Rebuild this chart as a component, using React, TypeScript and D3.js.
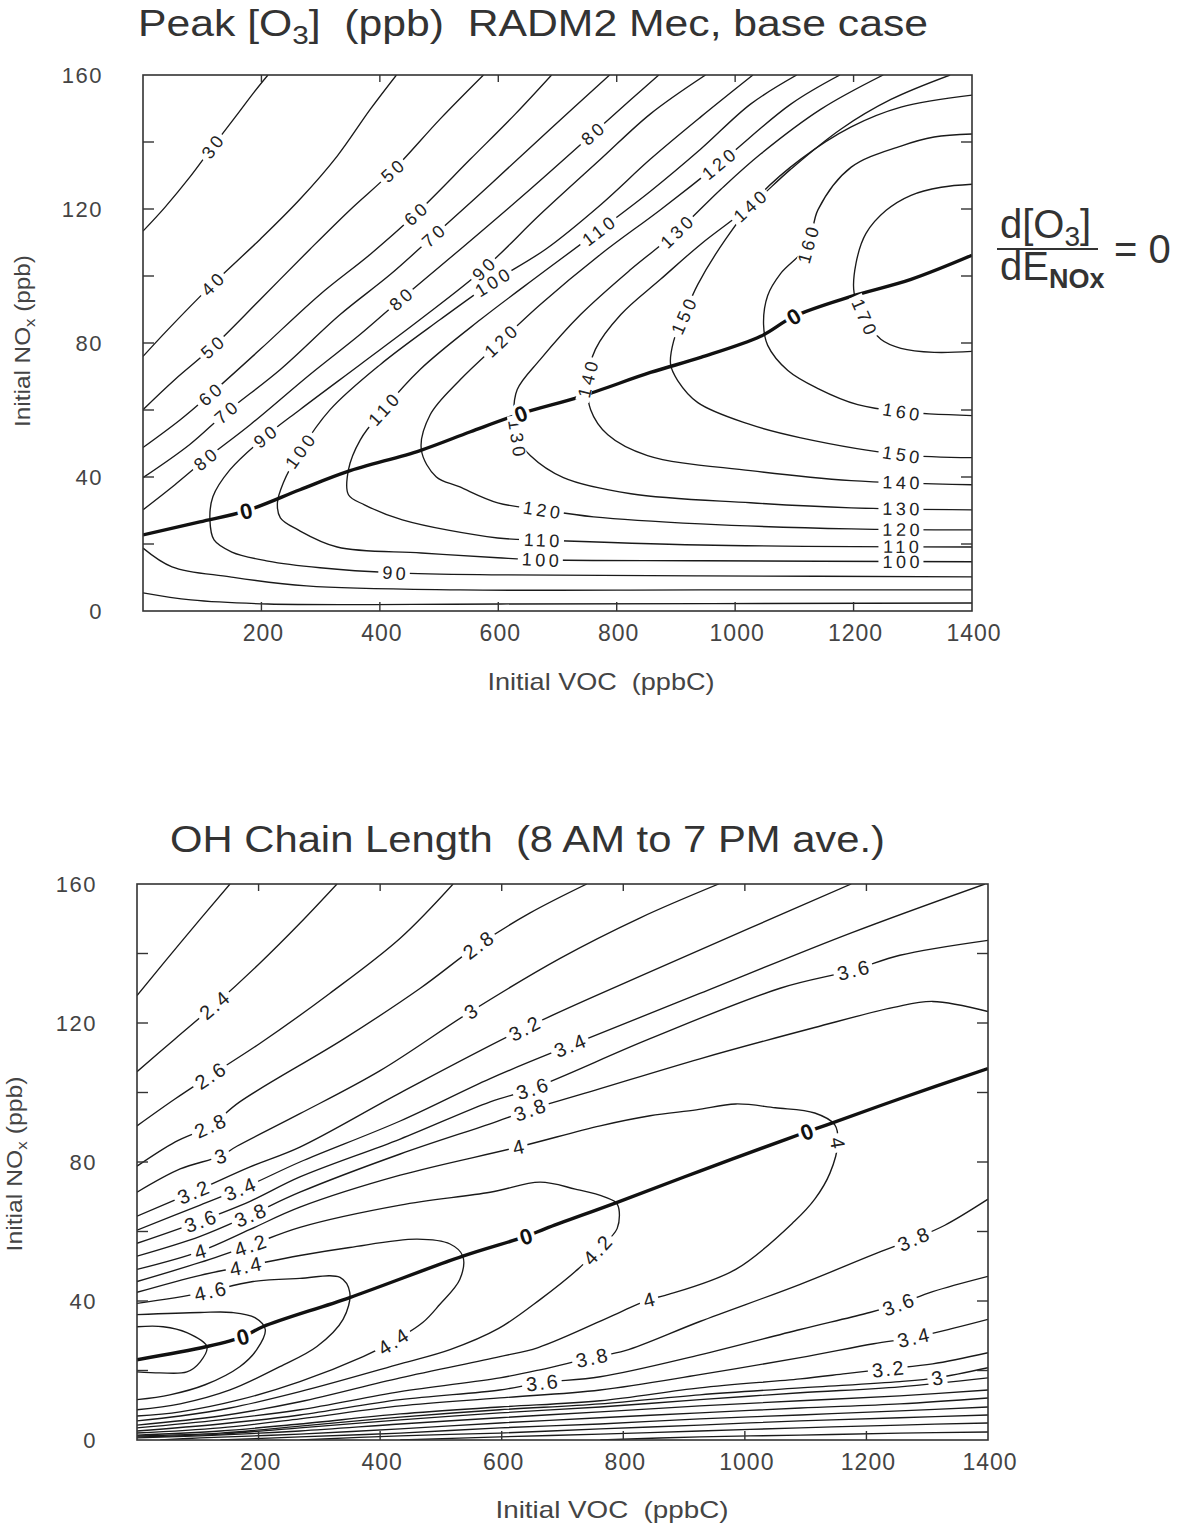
import * as d3 from 'd3';

type Pt = [number, number];
interface Iso {
  level: string;
  pts: Pt[];
}
type Tag = [string, number, number];

const FONT = '"Liberation Sans", Arial, Helvetica, sans-serif';

const vocLabels = [200, 400, 600, 800, 1000, 1200, 1400];
const vocTicks = [200, 400, 600, 800, 1000, 1200];
const noxLabels = [0, 40, 80, 120, 160];
const noxTicks = [20, 40, 60, 80, 100, 120, 140];

// ---- Peak [O3] (ppb), contours: [VOC ppbC, NOx ppb]
const o3Ridge: Pt[] = [
  [0, 22.7], [96, 26.6], [174, 29.9], [265, 36.2], [345, 41.6], [468, 47.9], [553, 53.5],
  [638, 58.9], [739, 64], [857, 71.2], [942, 75.7], [1043, 82], [1099, 87.9], [1196, 93.9],
  [1297, 99], [1400, 106.2],
];
const o3Zeros: Pt[] = [[174, 29.9], [638, 58.9], [1099, 87.9]];

const o3Lines: Iso[] = [
  { level: '30', pts: [[0, 113.4], [37, 120.5], [79, 129.5], [117, 138.5], [156, 147.5], [189, 155.2], [211, 160]] },
  { level: '40', pts: [[0, 76], [42, 84], [117, 97.5], [198, 111], [265, 122.9], [328, 135.8], [384, 149.8], [428, 160]] },
  { level: '50', pts: [[0, 60.1], [54, 69.1], [117, 78.7], [198, 93], [282, 108], [350, 119.8], [421, 131.3], [502, 146.9], [575, 160]] },
  { level: '60', pts: [[0, 48.8], [63, 57.1], [113, 64.6], [198, 78.1], [299, 94.5], [384, 106.5], [460, 118.4], [553, 134.9], [629, 148.4], [690, 160]] },
  { level: '70', pts: [[0, 39.8], [79, 49.7], [140, 59.2], [232, 72.1], [333, 88.5], [418, 100.5], [490, 111.9], [587, 127.4], [688, 143.9], [788, 160]] },
  { level: '80', pts: [[0, 30.2], [54, 37.7], [105, 45.2], [181, 55.6], [282, 70.6], [367, 82.6], [435, 93], [536, 108], [654, 125.9], [759, 142.4], [824, 152.7], [871, 160]] },
  { level: '90', pts: [[950, 160], [857, 148.4], [773, 134.9], [671, 118.4], [575, 102], [468, 87], [367, 73.6], [265, 60.1], [206, 52], [147, 42.2], [118, 34.1], [113, 27.2], [120, 21.2], [150, 17.6], [211, 14.9], [299, 12.9], [424, 11.4], [604, 10.8], [942, 10.5], [1400, 10.2]] },
  { level: '100', pts: [[1030, 160], [942, 147.5], [857, 134.9], [773, 121.3], [680, 108], [590, 98.1], [502, 87], [401, 73.6], [316, 60.1], [265, 47.6], [237, 38.3], [227, 32.3], [232, 27.8], [262, 24.2], [328, 19.1], [470, 17.3], [599, 15.9], [671, 15.3], [942, 15], [1400, 14.7]] },
  { level: '110', pts: [[1104, 160], [1026, 151.3], [942, 137.9], [857, 125.3], [769, 113.4], [671, 100.5], [570, 87], [468, 72.1], [406, 60.1], [367, 51.1], [347, 42.2], [347, 34.7], [374, 31.7], [438, 27.2], [599, 21.8], [673, 21.2], [942, 19.7], [1400, 19.1]] },
  { level: '120', pts: [[1177, 160], [1094, 151.3], [972, 133.4], [874, 119.8], [773, 106.5], [671, 91.5], [604, 80.5], [536, 69.1], [485, 58.6], [470, 48.2], [495, 40.1], [534, 37.1], [599, 32.3], [673, 30.2], [761, 28.1], [942, 26], [1196, 24.5], [1400, 24.2]] },
  { level: '130', pts: [[1250, 160], [1145, 149.8], [1043, 136.4], [976, 125.9], [901, 113.1], [824, 102], [739, 88.5], [671, 75.1], [632, 66.1], [626, 58.6], [632, 51.7], [654, 46.4], [710, 39.8], [824, 35], [1026, 32.3], [1196, 30.8], [1400, 30.2]] },
  { level: '140', pts: [[1363, 160], [1263, 152.7], [1179, 143.9], [1094, 131.9], [1025, 120.8], [942, 109.5], [874, 99], [807, 88.5], [764, 78.1], [751, 69.1], [756, 60.1], [785, 52.6], [852, 46.4], [1026, 41.9], [1196, 38.9], [1400, 37.7]] },
  { level: '150', pts: [[1400, 154], [1280, 150.4], [1196, 144.5], [1111, 134.9], [1043, 124.4], [984, 111], [937, 97.5], [913, 87.9], [896, 80.5], [891, 73.6], [903, 68.8], [937, 62.2], [1021, 55.9], [1111, 51.7], [1280, 46.7], [1400, 45.8]] },
  { level: '160', pts: [[1400, 142.4], [1336, 141.5], [1280, 138.8], [1196, 132.5], [1140, 119.8], [1123, 109.2], [1077, 100.8], [1055, 94.2], [1048, 85.5], [1055, 79.3], [1089, 71.8], [1140, 66.4], [1207, 61.6], [1280, 59.5], [1400, 58.3]] },
  { level: '170', pts: [[1400, 127.4], [1348, 126.5], [1297, 124.1], [1255, 119.6], [1221, 112.7], [1204, 103.7], [1201, 94.8], [1218, 87.9], [1246, 81.1], [1280, 78.4], [1336, 77.2], [1400, 77.5]] },
  { level: '80', pts: [[0, 18.8], [49, 13.2], [147, 10.2], [276, 7.5], [536, 6.3], [942, 6.3], [1400, 6.3]] },
  { level: '70', pts: [[0, 5.4], [81, 3.3], [211, 2.1], [604, 2.1], [1400, 2.4]] },
];

const o3Tags: Tag[] = [
  ['30', 117, 138.5], ['40', 117, 97.5], ['50', 117, 78.7], ['50', 421, 131.3],
  ['60', 113, 64.6], ['60', 460, 118.4], ['70', 140, 59.2], ['70', 490, 111.9],
  ['80', 105, 45.2], ['80', 435, 93], ['80', 759, 142.4],
  ['90', 206, 52], ['90', 575, 102], ['90', 424, 11.4],
  ['100', 265, 47.6], ['100', 590, 98.1], ['100', 671, 15.3], ['100', 1280, 14.8],
  ['110', 406, 60.1], ['110', 769, 113.4], ['110', 673, 21.2], ['110', 1280, 19.3],
  ['120', 604, 80.5], ['120', 972, 133.4], ['120', 673, 30.2], ['120', 1280, 24.4],
  ['130', 901, 113.1], ['130', 632, 51.7], ['130', 1280, 30.6],
  ['140', 1025, 120.8], ['140', 751, 69.1], ['140', 1280, 38.2],
  ['150', 913, 87.9], ['150', 1280, 46.7],
  ['160', 1123, 109.2], ['160', 1280, 59.5],
  ['170', 1218, 87.9],
];

// ---- OH chain length (8 AM to 7 PM ave.)
const ohRidge: Pt[] = [
  [0, 23.1], [115, 26.9], [174, 29.7], [207, 32.6], [350, 41], [536, 52.9], [640, 58.6],
  [673, 60.9], [790, 68.4], [926, 77.4], [1069, 86.6], [1102, 88.7], [1135, 90.7],
  [1255, 98.2], [1400, 106.9],
];
const ohZeros: Pt[] = [[174, 29.7], [640, 58.6], [1102, 88.7]];

const ohLines: Iso[] = [
  { level: '2.2', pts: [[0, 127.9], [71, 143], [153, 160]] },
  { level: '2.4', pts: [[0, 106], [63, 115.5], [127, 125.1], [202, 137.2], [268, 148.7], [329, 160]] },
  { level: '2.6', pts: [[0, 90.4], [63, 98.2], [120, 104.8], [202, 114.1], [317, 128.5], [433, 144.4], [520, 160]] },
  { level: '2.8', pts: [[0, 78.8], [63, 85.8], [120, 90.4], [169, 97.3], [341, 115.5], [466, 130], [561, 142.4], [646, 151.6], [740, 160]] },
  { level: '3', pts: [[0, 71.3], [71, 78], [137, 81.7], [165, 84.6], [268, 93.9], [400, 106.3], [549, 123.3], [696, 138.6], [827, 150.2], [957, 160]] },
  { level: '3.2', pts: [[0, 64.4], [104, 72.2], [186, 78.6], [268, 84.3], [433, 99.9], [637, 118.4], [827, 133.4], [1008, 147.3], [1175, 160]] },
  { level: '3.4', pts: [[0, 60.4], [104, 67.6], [186, 73.4], [268, 80], [433, 91.8], [581, 104], [712, 113.5], [926, 128.5], [1173, 145.8], [1395, 160]] },
  { level: '3.6', pts: [[0, 56.6], [104, 63], [186, 68.7], [268, 75.7], [433, 86.6], [581, 97.3], [650, 101.1], [844, 115.5], [1058, 130], [1178, 135.2], [1255, 139.5], [1400, 143.8]] },
  { level: '3.8', pts: [[0, 52.9], [104, 58.6], [186, 64.7], [268, 71.3], [433, 82.3], [581, 91], [646, 95], [762, 101.1], [926, 109.7], [1115, 118.7], [1245, 124.5], [1309, 126.2], [1400, 123.3]] },
  { level: '4', pts: [[0, 49.1], [104, 54.3], [186, 60.6], [268, 67], [433, 76.2], [627, 84.3], [762, 90.4], [844, 93.3], [920, 95], [985, 96.7], [1050, 95.6], [1115, 94.1], [1148, 90.7], [1153, 85.5], [1140, 76.8], [1115, 69.3], [1082, 63], [985, 49.1], [869, 41.6], [842, 40.4], [790, 36.4], [660, 26.6], [597, 24], [433, 17.9], [268, 11], [137, 6.9], [0, 4.3]] },
  { level: '4.2', pts: [[0, 45.6], [104, 51.1], [186, 56], [268, 61.2], [433, 67.6], [581, 71.3], [663, 74.2], [721, 72.2], [770, 69.9], [790, 67.9], [790, 60.9], [757, 54.6], [725, 49.1], [663, 40.4], [595, 32.1], [515, 26], [433, 21.9], [268, 13.9], [153, 9.2], [71, 6.9], [0, 5.5]] },
  { level: '4.4', pts: [[0, 42.5], [104, 47.4], [186, 50.3], [268, 53.1], [350, 55.4], [461, 57.8], [515, 56.4], [536, 52.9], [531, 46.2], [498, 39], [470, 33.8], [421, 28.3], [372, 24], [268, 16.8], [169, 11.6], [71, 8.1], [0, 6.9]] },
  { level: '4.6', pts: [[0, 39.3], [104, 42.2], [191, 45.6], [268, 46.5], [334, 46.8], [350, 42.5], [339, 34.7], [296, 26.9], [235, 21.1], [153, 14.4], [71, 10.4], [0, 8.7]] },
  { level: '4.8', pts: [[0, 36.1], [104, 36.7], [156, 36.7], [194, 35.2], [211, 31.8], [197, 26], [169, 21.1], [112, 15.9], [54, 13], [0, 11.6]] },
  { level: '5', pts: [[0, 32.6], [43, 32.6], [82, 30.9], [115, 26.9], [104, 22.5], [82, 19.6], [38, 19.3], [0, 19.6]] },
  { level: '3.8', pts: [[1400, 69.3], [1329, 61.8], [1277, 57.8], [1212, 53.4], [1091, 44.8], [926, 34.1], [803, 25.7], [748, 23.7], [663, 20.2], [597, 17.9], [433, 13.9], [268, 8.7], [137, 5.8], [0, 3.5]] },
  { level: '3.6', pts: [[1400, 47.1], [1309, 42.7], [1252, 39], [1199, 36.4], [1091, 31.8], [926, 24.5], [762, 18.2], [666, 16.5], [597, 14.4], [433, 11.6], [268, 7.2], [137, 4.6], [0, 2.6]] },
  { level: '3.4', pts: [[1400, 34.7], [1342, 32.1], [1277, 29.5], [1212, 27.7], [1091, 23.7], [926, 18.8], [762, 14.4], [597, 12.1], [433, 9.8], [268, 6.1], [137, 3.5], [0, 2]] },
  { level: '3.2', pts: [[1400, 25.1], [1309, 21.9], [1235, 20.5], [1166, 19.1], [1091, 17.6], [926, 15], [762, 11.3], [597, 9.5], [433, 7.5], [268, 4.6], [137, 2.6], [0, 1.4]] },
  { level: '3', pts: [[1400, 20.8], [1316, 17.9], [1255, 16.8], [1091, 15], [926, 13], [762, 10.4], [597, 8.7], [433, 6.6], [268, 4], [137, 2], [0, 1.2]] },
  { level: '2.8', pts: [[1400, 17.9], [1255, 15.3], [1091, 13.6], [926, 11.6], [762, 9.5], [597, 7.8], [433, 5.8], [268, 3.5], [137, 1.7], [0, 0.9]] },
  { level: '2.6', pts: [[1400, 14.4], [1255, 12.7], [1091, 11.3], [926, 9.8], [762, 8.1], [597, 6.4], [433, 4.6], [268, 2.6], [104, 1.2], [0, 0.6]] },
  { level: '2.4', pts: [[1400, 12.1], [1255, 10.4], [1091, 9.2], [926, 7.8], [762, 6.4], [597, 4.9], [433, 3.2], [268, 1.7], [104, 0.6], [38, 0]] },
  { level: '2.2', pts: [[1400, 9.5], [1255, 8.4], [1091, 7.2], [926, 6.1], [762, 4.6], [597, 3.5], [433, 2], [268, 0.9], [137, 0]] },
  { level: '2', pts: [[1400, 7.2], [1255, 6.4], [1091, 5.5], [926, 4.3], [762, 3.2], [597, 2], [433, 1.2], [268, 0]] },
  { level: '1.8', pts: [[1400, 4.9], [1255, 4.3], [1091, 3.5], [926, 2.6], [762, 1.7], [597, 0.9], [433, 0]] },
  { level: '1.6', pts: [[1400, 2.3], [1255, 2], [1091, 1.4], [926, 0.9], [762, 0]] },
];

const ohTags: Tag[] = [
  ['2.4', 127, 125.1], ['2.6', 120, 104.8], ['2.8', 120, 90.4], ['2.8', 561, 142.4],
  ['3', 137, 81.7], ['3', 549, 123.3], ['3', 1316, 17.9],
  ['3.2', 92, 71.3], ['3.2', 637, 118.4], ['3.2', 1235, 20.5],
  ['3.4', 169, 72.2], ['3.4', 712, 113.5], ['3.4', 1277, 29.5],
  ['3.6', 104, 63], ['3.6', 650, 101.1], ['3.6', 1178, 135.2], ['3.6', 1252, 39], ['3.6', 666, 16.5],
  ['3.8', 186, 64.7], ['3.8', 646, 95], ['3.8', 1277, 57.8], ['3.8', 748, 23.7],
  ['4', 104, 54.3], ['4', 627, 84.3], ['4', 1153, 85.5], ['4', 842, 40.4],
  ['4.2', 186, 56], ['4.2', 757, 54.6],
  ['4.4', 178, 50.2], ['4.4', 421, 28.3],
  ['4.6', 120, 42.8],
];

function snap(pts: Pt[], p: Pt) {
  let best = Infinity;
  let q: Pt = p;
  let ang = 0;
  for (let i = 0; i < pts.length - 1; i++) {
    const [x1, y1] = pts[i];
    const [x2, y2] = pts[i + 1];
    const dx = x2 - x1;
    const dy = y2 - y1;
    const len = dx * dx + dy * dy || 1;
    const t = Math.max(0, Math.min(1, ((p[0] - x1) * dx + (p[1] - y1) * dy) / len));
    const cx = x1 + t * dx;
    const cy = y1 + t * dy;
    const d = (cx - p[0]) ** 2 + (cy - p[1]) ** 2;
    if (d < best) {
      best = d;
      q = [cx, cy];
      ang = (Math.atan2(dy, dx) * 180) / Math.PI;
    }
  }
  if (ang > 90) ang -= 180;
  if (ang < -90) ang += 180;
  return { best, q, ang };
}

// rough width of a label, used for the white gap cut into the line
function labelWidth(s: string, size: number, spacing: number) {
  let w = 0;
  for (const c of s) w += c === '.' ? 0.28 * size : 0.556 * size;
  return w + spacing * (s.length - 1);
}

interface PanelProps {
  id: string;
  left: number;
  right: number;
  top: number;
  bottom: number;
  lines: Iso[];
  tags: Tag[];
  ridge: Pt[];
  zeros: Pt[];
  tagSize: number;
  tagSpacing: number;
}

function Panel({ id, left, right, top, bottom, lines, tags, ridge, zeros, tagSize, tagSpacing }: PanelProps) {
  const x = d3.scaleLinear().domain([0, 1400]).range([left, right]);
  const y = d3.scaleLinear().domain([0, 160]).range([bottom, top]);
  const line = d3
    .line<Pt>()
    .x((d) => x(d[0]))
    .y((d) => y(d[1]))
    .curve(d3.curveCatmullRom.alpha(0.5));
  const toScreen = (pts: Pt[]) => pts.map((d) => [x(d[0]), y(d[1])] as Pt);

  // put each label on the nearest line of its level, turned along it
  const placed = tags.map(([lev, v, n]) => {
    const p: Pt = [x(v), y(n)];
    let hit = { best: Infinity, q: p, ang: 0 };
    lines
      .filter((l) => l.level === lev)
      .forEach((l) => {
        const s = snap(toScreen(l.pts), p);
        if (s.best < hit.best) hit = s;
      });
    return { lev, ...hit };
  });
  const ridgeScreen = toScreen(ridge);
  const zeroMarks = zeros.map((z) => snap(ridgeScreen, [x(z[0]), y(z[1])]));

  const tickLen = 9;
  return (
    <g>
      <defs>
        <clipPath id={id}>
          <rect x={left} y={top} width={right - left} height={bottom - top} />
        </clipPath>
      </defs>
      <g clipPath={`url(#${id})`}>
        {lines.map((l, i) => (
          <path key={i} d={line(l.pts) ?? ''} fill="none" stroke="#1a1a1a" strokeWidth={1.35} />
        ))}
        <path d={line(ridge) ?? ''} fill="none" stroke="#111" strokeWidth={3.4} />
      </g>

      {placed.map((t, i) => {
        const w = labelWidth(t.lev, tagSize, tagSpacing) + 8;
        const h = tagSize * 0.78;
        return (
          <g key={i} transform={`translate(${t.q[0]},${t.q[1]}) rotate(${t.ang})`}>
            <rect x={-w / 2} y={-h / 2} width={w} height={h} fill="#fff" />
            <text
              x={tagSpacing / 2}
              textAnchor="middle"
              dy="0.36em"
              fontSize={tagSize}
              letterSpacing={tagSpacing}
              fill="#222"
            >
              {t.lev}
            </text>
          </g>
        );
      })}
      {zeroMarks.map((z, i) => (
        <text
          key={i}
          transform={`translate(${z.q[0]},${z.q[1]}) rotate(${z.ang})`}
          textAnchor="middle"
          dy="0.36em"
          fontSize={22}
          fontWeight="bold"
          fill="#111"
          stroke="#fff"
          strokeWidth={7}
          paintOrder="stroke"
        >
          0
        </text>
      ))}

      <rect x={left} y={top} width={right - left} height={bottom - top} fill="none" stroke="#333" strokeWidth={1.6} />
      {vocTicks.map((v) => (
        <g key={v} stroke="#333" strokeWidth={1.4}>
          <line x1={x(v)} x2={x(v)} y1={bottom} y2={bottom - tickLen} />
          <line x1={x(v)} x2={x(v)} y1={top} y2={top + tickLen - 2} />
        </g>
      ))}
      {noxTicks.map((v) => (
        <g key={v} stroke="#333" strokeWidth={1.4}>
          <line x1={left} x2={left + tickLen + 2} y1={y(v)} y2={y(v)} />
          <line x1={right} x2={right - tickLen - 2} y1={y(v)} y2={y(v)} />
        </g>
      ))}
      {vocLabels.map((v) => (
        <text key={v} x={x(v) + 2} y={bottom + 30} textAnchor="middle" fontSize={23} letterSpacing={1} fill="#444">
          {v}
        </text>
      ))}
      {noxLabels.map((v) => (
        <text key={v} x={left - 40} y={y(v) + 8} textAnchor="end" fontSize={22} letterSpacing={1.5} fill="#444">
          {v}
        </text>
      ))}
    </g>
  );
}

export default function App() {
  return (
    <svg
      width={1187}
      height={1527}
      viewBox="0 0 1187 1527"
      style={{ position: 'absolute', left: 0, top: 0, background: '#fff', fontFamily: FONT }}
    >
      <rect width={1187} height={1527} fill="#fff" />

      {/* Peak ozone panel */}
      <text x={138} y={36} fontSize={36} fill="#333" textLength={790} lengthAdjust="spacingAndGlyphs" style={{ whiteSpace: 'pre' }}>
        Peak [O<tspan dy={8} fontSize={25}>3</tspan>
        <tspan dy={-8}>]  (ppb)  RADM2 Mec, base case</tspan>
      </text>
      <Panel
        id="clip-o3"
        left={143}
        right={972}
        top={75}
        bottom={611}
        lines={o3Lines}
        tags={o3Tags}
        ridge={o3Ridge}
        zeros={o3Zeros}
        tagSize={18}
        tagSpacing={3.5}
      />
      <text x={601} y={690} textAnchor="middle" fontSize={24} fill="#444" textLength={227} lengthAdjust="spacingAndGlyphs" style={{ whiteSpace: 'pre' }}>
        Initial VOC  (ppbC)
      </text>
      <text transform="translate(30,341) rotate(-90)" textAnchor="middle" fontSize={22} fill="#444" textLength={172} lengthAdjust="spacingAndGlyphs">
        Initial NO<tspan dy={5} fontSize={15}>x</tspan>
        <tspan dy={-5}> (ppb)</tspan>
      </text>

      <g fill="#333" fontSize={40}>
        <text x={1000} y={238}>
          d[O<tspan dy={8} fontSize={28}>3</tspan>
          <tspan dy={-8}>]</tspan>
        </text>
        <line x1={997} x2={1098} y1={249} y2={249} stroke="#333" strokeWidth={2.2} />
        <text x={1000} y={280}>
          dE<tspan dy={8} fontSize={27} fontWeight="bold">NOx</tspan>
        </text>
        <text x={1114} y={263}>= 0</text>
      </g>

      {/* OH chain length panel */}
      <text x={170} y={852} fontSize={36} fill="#333" textLength={715} lengthAdjust="spacingAndGlyphs" style={{ whiteSpace: 'pre' }}>
        OH Chain Length  (8 AM to 7 PM ave.)
      </text>
      <Panel
        id="clip-oh"
        left={137}
        right={988}
        top={884}
        bottom={1440}
        lines={ohLines}
        tags={ohTags}
        ridge={ohRidge}
        zeros={ohZeros}
        tagSize={20}
        tagSpacing={2}
      />
      <text x={612} y={1518} textAnchor="middle" fontSize={24} fill="#444" textLength={233} lengthAdjust="spacingAndGlyphs" style={{ whiteSpace: 'pre' }}>
        Initial VOC  (ppbC)
      </text>
      <text transform="translate(22,1164) rotate(-90)" textAnchor="middle" fontSize={22} fill="#444" textLength={175} lengthAdjust="spacingAndGlyphs">
        Initial NO<tspan dy={5} fontSize={15}>x</tspan>
        <tspan dy={-5}> (ppb)</tspan>
      </text>
    </svg>
  );
}
